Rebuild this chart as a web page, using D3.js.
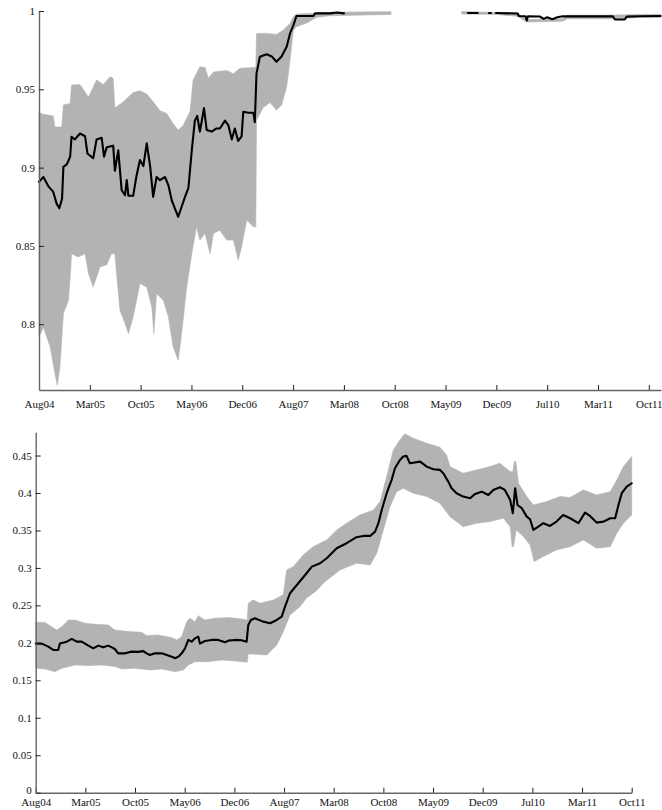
<!DOCTYPE html>
<html>
<head>
<meta charset="utf-8">
<script src="https://cdn.jsdelivr.net/npm/d3@7"></script>
<style>
  html, body { margin: 0; padding: 0; background: #fff; }
  svg { display: block; }
</style>
</head>
<body>
<svg id="chart" width="662" height="810"></svg>
<script>
// Trading-day index from the first observation; one tick every 150 days.
const tickDays = [0, 150, 300, 450, 600, 750, 900, 1050, 1200, 1350, 1500, 1650, 1800];
const tickLabels = ["Aug04", "Mar05", "Oct05", "May06", "Dec06", "Aug07", "Mar08",
                    "Oct08", "May09", "Dec09", "Jul10", "Mar11", "Oct11"];

// Upper panel: [day, value]; null marks a break in the series.
const topMean = [
  [0,0.891],[13,0.894],[28,0.888],[42,0.8845],[52,0.877],[60,0.874],[68,0.880],[72,0.9005],
  [82,0.902],[92,0.907],[96,0.9197],[106,0.918],[121,0.9218],[136,0.920],[143,0.909],[160,0.906],
  [170,0.918],[185,0.919],[192,0.907],[200,0.913],[219,0.914],[224,0.898],[234,0.911],[244,0.8856],
  [254,0.8824],[259,0.892],[264,0.882],[278,0.882],[288,0.895],[298,0.9048],[308,0.901],[318,0.9155],
  [328,0.901],[337,0.8813],[347,0.894],[357,0.892],[372,0.894],[382,0.8887],[392,0.879],[401,0.874],
  [411,0.8686],[421,0.875],[431,0.8813],[441,0.887],[451,0.911],[460,0.930],[467,0.933],[475,0.923],
  [487,0.938],[495,0.924],[510,0.923],[524,0.925],[534,0.925],[549,0.930],[559,0.927],[569,0.918],
  [578,0.925],[588,0.917],[598,0.920],[603,0.9357],[618,0.935],[633,0.935],[637,0.929],[642,0.960],
  [652,0.9708],[672,0.9724],[687,0.971],[701,0.9676],[716,0.971],[731,0.9772],[741,0.9857],[751,0.991],
  [760,0.9968],[810,0.9968],[815,0.9985],[859,0.9985],[880,0.9990],[900,0.9985],
  null,
  [1266,0.9987],[1295,0.9987],
  null,
  [1328,0.9987],[1334,0.9987],
  null,
  [1349,0.9987],[1413,0.9984],[1416,0.9968],[1436,0.9966],[1440,0.9939],[1443,0.9966],[1478,0.9965],
  [1490,0.9950],[1500,0.9960],[1515,0.9948],[1530,0.9960],[1546,0.9966],[1694,0.9966],[1700,0.9946],
  [1729,0.9946],[1735,0.9964],[1773,0.9966],[1835,0.9968]
];
const topUpper = [
  [0,0.935],[13,0.934],[42,0.933],[47,0.926],[67,0.926],[72,0.940],[92,0.941],[96,0.9527],
  [121,0.953],[146,0.945],[170,0.956],[190,0.953],[210,0.958],[219,0.957],[224,0.938],[249,0.942],
  [278,0.948],[298,0.949],[318,0.947],[337,0.942],[357,0.9363],[377,0.9346],[396,0.928],[411,0.924],
  [426,0.927],[446,0.936],[455,0.956],[475,0.9644],[490,0.964],[500,0.957],[515,0.961],[554,0.962],
  [574,0.960],[593,0.9634],[633,0.964],[640,0.964],[642,0.9857],[672,0.9857],[701,0.985],[721,0.9878],
  [741,0.992],[751,0.9964],[760,0.998],[859,0.9992],[1039,0.9996],
  null,
  [1248,0.9997],[1350,0.9990],[1413,0.9988],[1420,0.9975],[1440,0.9945],[1546,0.9950],[1560,0.9974],
  [1694,0.9974],[1773,0.9978],[1835,0.9980]
];
const topLower = [
  [0,0.792],[13,0.798],[33,0.7855],[47,0.7685],[54,0.761],[62,0.7735],[72,0.8068],[87,0.8153],
  [94,0.8366],[96,0.845],[116,0.843],[136,0.845],[146,0.8324],[160,0.8238],[180,0.8366],[200,0.838],
  [214,0.845],[224,0.845],[229,0.8324],[239,0.809],[254,0.8004],[264,0.794],[278,0.8047],[288,0.8153],
  [298,0.826],[318,0.8238],[333,0.811],[339,0.794],[347,0.8196],[367,0.8153],[382,0.8047],[396,0.7855],
  [411,0.777],[421,0.794],[436,0.8238],[451,0.845],[465,0.8622],[475,0.8537],[490,0.858],[505,0.845],
  [515,0.858],[534,0.860],[554,0.8537],[574,0.8537],[588,0.8409],[598,0.8494],[613,0.8665],[633,0.8622],
  [640,0.8622],[642,0.9303],[662,0.9384],[682,0.9416],[701,0.9367],[716,0.940],[731,0.9516],[741,0.9687],
  [751,0.9879],[760,0.990],[790,0.9923],[820,0.996],[859,0.997],[1039,0.9978],
  null,
  [1248,0.9981],[1350,0.9978],[1413,0.9966],[1420,0.9955],[1440,0.9930],[1546,0.9935],[1560,0.9950],
  [1694,0.9950],[1773,0.9958],[1835,0.9958]
];

// Lower panel: [day, value].
const botMean = [
  [0,0.199],[18,0.199],[38,0.195],[53,0.1905],[68,0.1905],[73,0.199],[94,0.2016],[109,0.2052],
  [124,0.2016],[139,0.2016],[159,0.1963],[174,0.1927],[189,0.1963],[204,0.194],[219,0.1963],[230,0.194],
  [239,0.1918],[249,0.186],[270,0.186],[290,0.1883],[310,0.188],[325,0.189],[335,0.186],[345,0.1838],
  [360,0.186],[380,0.186],[396,0.1838],[411,0.1816],[421,0.1794],[431,0.1816],[441,0.186],[451,0.1927],
  [461,0.2039],[471,0.2016],[481,0.206],[491,0.2083],[496,0.199],[511,0.2025],[531,0.2039],[551,0.2039],
  [572,0.2008],[582,0.2030],[602,0.2039],[622,0.2035],[637,0.2016],[642,0.2239],[650,0.2305],[662,0.2328],
  [687,0.2283],[708,0.2261],[728,0.2305],[743,0.235],[753,0.2483],[768,0.2662],[793,0.2795],[818,0.2929],
  [834,0.3017],[859,0.3062],[879,0.3129],[909,0.3263],[939,0.333],[969,0.341],[989,0.3427],[1010,0.3427],
  [1025,0.3484],[1035,0.3597],[1045,0.3774],[1060,0.3997],[1075,0.4175],[1085,0.4331],[1100,0.4441],
  [1110,0.4486],[1120,0.4495],[1130,0.4397],[1161,0.4419],[1181,0.4352],[1201,0.4317],[1221,0.4308],
  [1231,0.4264],[1246,0.4152],[1256,0.4064],[1271,0.3997],[1291,0.3952],[1312,0.393],[1327,0.3988],
  [1347,0.4018],[1367,0.3974],[1382,0.4041],[1402,0.4077],[1417,0.4041],[1433,0.3908],[1441,0.373],
  [1448,0.4064],[1455,0.384],[1468,0.3797],[1483,0.3685],[1493,0.365],[1503,0.3507],[1518,0.3551],
  [1533,0.3597],[1553,0.356],[1573,0.3618],[1593,0.3707],[1614,0.3663],[1639,0.3597],[1659,0.3738],
  [1674,0.3694],[1694,0.3605],[1715,0.3618],[1735,0.3663],[1750,0.3663],[1760,0.384],[1770,0.3997],
  [1785,0.4085],[1800,0.413]
];
const botUpper = [
  [0,0.2275],[28,0.227],[63,0.2172],[79,0.2216],[99,0.2305],[119,0.2305],[149,0.2261],[179,0.2248],
  [219,0.2239],[239,0.2172],[280,0.215],[320,0.2141],[335,0.2096],[370,0.2105],[411,0.2069],[426,0.2039],
  [441,0.2083],[456,0.2283],[466,0.2328],[481,0.2283],[491,0.2363],[511,0.2305],[541,0.2328],[582,0.2337],
  [622,0.2319],[639,0.2305],[642,0.2528],[657,0.2572],[677,0.2528],[718,0.2572],[738,0.2617],[748,0.265],
  [758,0.2973],[778,0.3017],[808,0.3173],[838,0.3284],[879,0.3374],[909,0.3507],[939,0.3597],[979,0.3707],
  [1020,0.3774],[1040,0.3885],[1060,0.4219],[1080,0.4575],[1100,0.4709],[1115,0.4790],[1140,0.4731],
  [1181,0.4664],[1221,0.4610],[1241,0.4508],[1251,0.4352],[1291,0.4264],[1332,0.4308],[1372,0.4352],
  [1402,0.4397],[1433,0.4285],[1441,0.4285],[1446,0.4419],[1450,0.4419],[1458,0.413],[1483,0.3952],
  [1503,0.384],[1543,0.3885],[1583,0.3952],[1614,0.3940],[1654,0.4041],[1694,0.3974],[1735,0.4018],
  [1755,0.4175],[1775,0.4352],[1800,0.4486]
];
const botLower = [
  [0,0.1661],[28,0.1652],[58,0.1615],[79,0.1661],[119,0.1705],[159,0.1696],[199,0.1705],[239,0.1683],
  [260,0.1652],[300,0.1661],[345,0.1638],[380,0.1650],[421,0.1615],[446,0.1638],[461,0.1705],[481,0.1749],
  [521,0.1749],[562,0.1772],[602,0.1758],[639,0.174],[642,0.185],[657,0.1850],[698,0.1838],[728,0.1972],
  [748,0.215],[768,0.2372],[798,0.2483],[818,0.2600],[849,0.2700],[869,0.2800],[919,0.2973],[969,0.3062],
  [1010,0.304],[1030,0.3196],[1050,0.3507],[1070,0.3818],[1090,0.4018],[1110,0.4064],[1140,0.3997],
  [1181,0.3952],[1221,0.3863],[1251,0.3685],[1291,0.3551],[1332,0.3597],[1372,0.3618],[1412,0.3663],
  [1433,0.3551],[1439,0.3284],[1443,0.3284],[1451,0.3507],[1473,0.3418],[1493,0.3307],[1505,0.3084],
  [1533,0.3151],[1573,0.324],[1614,0.3284],[1654,0.3374],[1694,0.3263],[1735,0.3284],[1755,0.3463],
  [1775,0.3597],[1800,0.3707]
];

const topTicksY = [0.8, 0.85, 0.9, 0.95, 1];
const botTicksY = [0, 0.05, 0.1, 0.15, 0.2, 0.25, 0.3, 0.35, 0.4, 0.45];

const BAND = "#b3b3b3";
const FONT = "'Liberation Serif', 'Times New Roman', serif";
const svg = d3.select("#chart");

// Split a series at null entries into contiguous pieces.
function pieces(arr) {
  const out = [[]];
  arr.forEach(d => { if (d === null) out.push([]); else out[out.length - 1].push(d); });
  return out.filter(p => p.length);
}

function panel(cfg) {
  const x = d3.scaleLinear().domain(cfg.xDomain).range(cfg.xRange);
  const y = d3.scaleLinear().domain(cfg.yDomain).range(cfg.yRange);
  const g = svg.append("g");

  const edge = d3.line().x(d => x(d[0])).y(d => y(d[1]));
  const up = pieces(cfg.upper), lo = pieces(cfg.lower);
  up.forEach((seg, i) => {
    const poly = seg.concat(lo[i].slice().reverse());
    g.append("path").attr("d", edge(poly) + "Z")
      .attr("fill", BAND).attr("stroke", BAND).attr("stroke-width", 0.6);
  });

  g.append("path")
    .attr("d", d3.line().defined(d => d !== null).x(d => x(d[0])).y(d => y(d[1]))(cfg.mean))
    .attr("fill", "none").attr("stroke", "#000").attr("stroke-width", 2.1)
    .attr("stroke-linejoin", "round").attr("stroke-linecap", "round");

  const ax = d3.axisBottom(x).tickValues(tickDays)
    .tickFormat((d, i) => tickLabels[i]).tickSize(-5).tickSizeOuter(0).tickPadding(cfg.xPad);
  const gx = g.append("g").attr("transform", `translate(0,${cfg.yRange[0]})`).call(ax);

  const ay = d3.axisLeft(y).tickValues(cfg.yTicks)
    .tickFormat(d => String(+d.toFixed(2))).tickSize(-5).tickSizeOuter(0).tickPadding(4);
  const gy = g.append("g").attr("transform", `translate(${cfg.xRange[0]},0)`).call(ay);

  [gx, gy].forEach(a => {
    a.attr("font-family", FONT).attr("font-size", 11);
    a.selectAll(".tick text").attr("fill", "#111");
    a.select(".domain").attr("stroke", "#666").attr("stroke-width", 1.4);
    a.selectAll(".tick line").attr("stroke", "#222").attr("stroke-width", 1);
  });
  // the zero label sits right on the corner; nudge it up clear of the date labels
  gy.selectAll(".tick").filter(d => d === 0).select("text").attr("dy", "0.05em");
}

panel({
  xDomain: [0, 1836], xRange: [39, 661],
  yDomain: [0.758, 1], yRange: [390, 11],
  yTicks: topTicksY, xPad: 10,
  mean: topMean, upper: topUpper, lower: topLower
});

panel({
  xDomain: [0, 1800], xRange: [35.7, 631.7],
  yDomain: [0, 0.481], yRange: [792.7, 432.3],
  yTicks: botTicksY, xPad: 6,
  mean: botMean, upper: botUpper, lower: botLower
});
</script>
</body>
</html>
